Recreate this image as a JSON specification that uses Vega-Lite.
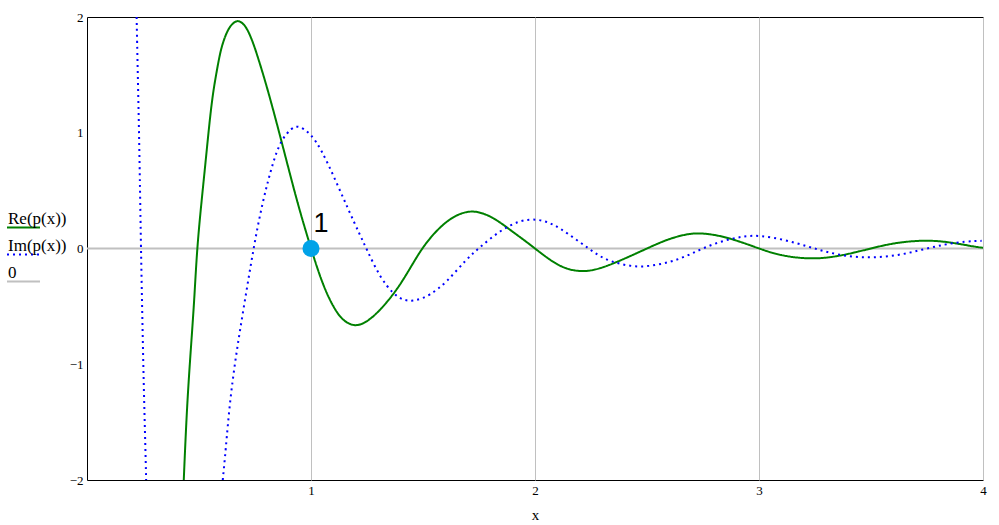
{
  "$schema": "https://vega.github.io/schema/vega-lite/v6.json",
  "width": 896,
  "height": 463,
  "autosize": {"type": "none"},
  "padding": {"left": 87, "top": 17, "right": 16, "bottom": 45},
  "background": "white",
  "config": {
    "view": {"stroke": "black", "strokeWidth": 1},
    "font": "Liberation Serif",
    "legend": {
      "orient": "none",
      "legendX": -81,
      "legendY": 193,
      "direction": "vertical",
      "title": null,
      "symbolType": "stroke",
      "symbolSize": 1089,
      "labelFont": "Liberation Serif",
      "labelFontSize": 17,
      "labelColor": "black",
      "labelBaseline": "bottom",
      "labelOffset": -33,
      "rowPadding": 4,
      "padding": 0
    }
  },
  "datasets": {
    "curves": [
      {"x": 0.432, "y": -2.0, "s": "Re(p(x))", "seg": "re"},
      {"x": 0.4375, "y": -1.745, "s": "Re(p(x))", "seg": "re"},
      {"x": 0.448, "y": -1.313, "s": "Re(p(x))", "seg": "re"},
      {"x": 0.463, "y": -0.881, "s": "Re(p(x))", "seg": "re"},
      {"x": 0.479, "y": -0.449, "s": "Re(p(x))", "seg": "re"},
      {"x": 0.491, "y": 0.0, "s": "Re(p(x))", "seg": "re"},
      {"x": 0.512, "y": 0.42, "s": "Re(p(x))", "seg": "re"},
      {"x": 0.527, "y": 0.702, "s": "Re(p(x))", "seg": "re"},
      {"x": 0.549, "y": 1.134, "s": "Re(p(x))", "seg": "re"},
      {"x": 0.564, "y": 1.365, "s": "Re(p(x))", "seg": "re"},
      {"x": 0.579, "y": 1.53, "s": "Re(p(x))", "seg": "re"},
      {"x": 0.594, "y": 1.69, "s": "Re(p(x))", "seg": "re"},
      {"x": 0.61, "y": 1.8, "s": "Re(p(x))", "seg": "re"},
      {"x": 0.631, "y": 1.9, "s": "Re(p(x))", "seg": "re"},
      {"x": 0.655, "y": 1.955, "s": "Re(p(x))", "seg": "re"},
      {"x": 0.676, "y": 1.972, "s": "Re(p(x))", "seg": "re"},
      {"x": 0.7, "y": 1.94, "s": "Re(p(x))", "seg": "re"},
      {"x": 0.72, "y": 1.88, "s": "Re(p(x))", "seg": "re"},
      {"x": 0.743, "y": 1.77, "s": "Re(p(x))", "seg": "re"},
      {"x": 0.765, "y": 1.64, "s": "Re(p(x))", "seg": "re"},
      {"x": 0.806, "y": 1.38, "s": "Re(p(x))", "seg": "re"},
      {"x": 0.862, "y": 0.975, "s": "Re(p(x))", "seg": "re"},
      {"x": 0.925, "y": 0.5, "s": "Re(p(x))", "seg": "re"},
      {"x": 0.962, "y": 0.245, "s": "Re(p(x))", "seg": "re"},
      {"x": 1.0, "y": 0.0, "s": "Re(p(x))", "seg": "re"},
      {"x": 1.055, "y": -0.334, "s": "Re(p(x))", "seg": "re"},
      {"x": 1.115, "y": -0.564, "s": "Re(p(x))", "seg": "re"},
      {"x": 1.16, "y": -0.648, "s": "Re(p(x))", "seg": "re"},
      {"x": 1.204, "y": -0.672, "s": "Re(p(x))", "seg": "re"},
      {"x": 1.25, "y": -0.635, "s": "Re(p(x))", "seg": "re"},
      {"x": 1.308, "y": -0.536, "s": "Re(p(x))", "seg": "re"},
      {"x": 1.382, "y": -0.363, "s": "Re(p(x))", "seg": "re"},
      {"x": 1.44, "y": -0.18, "s": "Re(p(x))", "seg": "re"},
      {"x": 1.494, "y": 0.0, "s": "Re(p(x))", "seg": "re"},
      {"x": 1.561, "y": 0.16, "s": "Re(p(x))", "seg": "re"},
      {"x": 1.635, "y": 0.282, "s": "Re(p(x))", "seg": "re"},
      {"x": 1.722, "y": 0.34, "s": "Re(p(x))", "seg": "re"},
      {"x": 1.814, "y": 0.272, "s": "Re(p(x))", "seg": "re"},
      {"x": 1.903, "y": 0.14, "s": "Re(p(x))", "seg": "re"},
      {"x": 1.95, "y": 0.075, "s": "Re(p(x))", "seg": "re"},
      {"x": 2.0, "y": 0.0, "s": "Re(p(x))", "seg": "re"},
      {"x": 2.05, "y": -0.075, "s": "Re(p(x))", "seg": "re"},
      {"x": 2.1, "y": -0.14, "s": "Re(p(x))", "seg": "re"},
      {"x": 2.15, "y": -0.183, "s": "Re(p(x))", "seg": "re"},
      {"x": 2.22, "y": -0.204, "s": "Re(p(x))", "seg": "re"},
      {"x": 2.3, "y": -0.17, "s": "Re(p(x))", "seg": "re"},
      {"x": 2.4, "y": -0.088, "s": "Re(p(x))", "seg": "re"},
      {"x": 2.5, "y": 0.0, "s": "Re(p(x))", "seg": "re"},
      {"x": 2.588, "y": 0.078, "s": "Re(p(x))", "seg": "re"},
      {"x": 2.677, "y": 0.126, "s": "Re(p(x))", "seg": "re"},
      {"x": 2.737, "y": 0.135, "s": "Re(p(x))", "seg": "re"},
      {"x": 2.826, "y": 0.112, "s": "Re(p(x))", "seg": "re"},
      {"x": 2.915, "y": 0.06, "s": "Re(p(x))", "seg": "re"},
      {"x": 3.0, "y": 0.0, "s": "Re(p(x))", "seg": "re"},
      {"x": 3.094, "y": -0.062, "s": "Re(p(x))", "seg": "re"},
      {"x": 3.228, "y": -0.094, "s": "Re(p(x))", "seg": "re"},
      {"x": 3.347, "y": -0.072, "s": "Re(p(x))", "seg": "re"},
      {"x": 3.481, "y": -0.009, "s": "Re(p(x))", "seg": "re"},
      {"x": 3.6, "y": 0.049, "s": "Re(p(x))", "seg": "re"},
      {"x": 3.734, "y": 0.073, "s": "Re(p(x))", "seg": "re"},
      {"x": 3.838, "y": 0.06, "s": "Re(p(x))", "seg": "re"},
      {"x": 3.957, "y": 0.017, "s": "Re(p(x))", "seg": "re"},
      {"x": 4.0, "y": 0.006, "s": "Re(p(x))", "seg": "re"},
      {"x": 0.2215, "y": 2.0, "s": "Im(p(x))", "seg": "im1"},
      {"x": 0.226, "y": 1.566, "s": "Im(p(x))", "seg": "im1"},
      {"x": 0.231, "y": 1.134, "s": "Im(p(x))", "seg": "im1"},
      {"x": 0.235, "y": 0.702, "s": "Im(p(x))", "seg": "im1"},
      {"x": 0.2375, "y": 0.415, "s": "Im(p(x))", "seg": "im1"},
      {"x": 0.241, "y": 0.0, "s": "Im(p(x))", "seg": "im1"},
      {"x": 0.2455, "y": -0.449, "s": "Im(p(x))", "seg": "im1"},
      {"x": 0.25, "y": -0.881, "s": "Im(p(x))", "seg": "im1"},
      {"x": 0.255, "y": -1.313, "s": "Im(p(x))", "seg": "im1"},
      {"x": 0.261, "y": -1.745, "s": "Im(p(x))", "seg": "im1"},
      {"x": 0.264, "y": -2.0, "s": "Im(p(x))", "seg": "im1"},
      {"x": 0.606, "y": -2.0, "s": "Im(p(x))", "seg": "im2"},
      {"x": 0.619, "y": -1.745, "s": "Im(p(x))", "seg": "im2"},
      {"x": 0.638, "y": -1.313, "s": "Im(p(x))", "seg": "im2"},
      {"x": 0.668, "y": -0.881, "s": "Im(p(x))", "seg": "im2"},
      {"x": 0.705, "y": -0.449, "s": "Im(p(x))", "seg": "im2"},
      {"x": 0.743, "y": 0.0, "s": "Im(p(x))", "seg": "im2"},
      {"x": 0.783, "y": 0.4, "s": "Im(p(x))", "seg": "im2"},
      {"x": 0.832, "y": 0.76, "s": "Im(p(x))", "seg": "im2"},
      {"x": 0.866, "y": 0.935, "s": "Im(p(x))", "seg": "im2"},
      {"x": 0.914, "y": 1.045, "s": "Im(p(x))", "seg": "im2"},
      {"x": 0.945, "y": 1.062, "s": "Im(p(x))", "seg": "im2"},
      {"x": 0.996, "y": 1.0, "s": "Im(p(x))", "seg": "im2"},
      {"x": 1.048, "y": 0.85, "s": "Im(p(x))", "seg": "im2"},
      {"x": 1.107, "y": 0.6, "s": "Im(p(x))", "seg": "im2"},
      {"x": 1.167, "y": 0.335, "s": "Im(p(x))", "seg": "im2"},
      {"x": 1.219, "y": 0.115, "s": "Im(p(x))", "seg": "im2"},
      {"x": 1.247, "y": 0.0, "s": "Im(p(x))", "seg": "im2"},
      {"x": 1.308, "y": -0.25, "s": "Im(p(x))", "seg": "im2"},
      {"x": 1.368, "y": -0.395, "s": "Im(p(x))", "seg": "im2"},
      {"x": 1.41, "y": -0.445, "s": "Im(p(x))", "seg": "im2"},
      {"x": 1.457, "y": -0.46, "s": "Im(p(x))", "seg": "im2"},
      {"x": 1.531, "y": -0.406, "s": "Im(p(x))", "seg": "im2"},
      {"x": 1.606, "y": -0.291, "s": "Im(p(x))", "seg": "im2"},
      {"x": 1.695, "y": -0.089, "s": "Im(p(x))", "seg": "im2"},
      {"x": 1.754, "y": 0.011, "s": "Im(p(x))", "seg": "im2"},
      {"x": 1.844, "y": 0.156, "s": "Im(p(x))", "seg": "im2"},
      {"x": 1.933, "y": 0.245, "s": "Im(p(x))", "seg": "im2"},
      {"x": 2.008, "y": 0.256, "s": "Im(p(x))", "seg": "im2"},
      {"x": 2.067, "y": 0.222, "s": "Im(p(x))", "seg": "im2"},
      {"x": 2.112, "y": 0.175, "s": "Im(p(x))", "seg": "im2"},
      {"x": 2.179, "y": 0.084, "s": "Im(p(x))", "seg": "im2"},
      {"x": 2.246, "y": -0.009, "s": "Im(p(x))", "seg": "im2"},
      {"x": 2.305, "y": -0.089, "s": "Im(p(x))", "seg": "im2"},
      {"x": 2.379, "y": -0.135, "s": "Im(p(x))", "seg": "im2"},
      {"x": 2.461, "y": -0.163, "s": "Im(p(x))", "seg": "im2"},
      {"x": 2.543, "y": -0.143, "s": "Im(p(x))", "seg": "im2"},
      {"x": 2.618, "y": -0.11, "s": "Im(p(x))", "seg": "im2"},
      {"x": 2.692, "y": -0.052, "s": "Im(p(x))", "seg": "im2"},
      {"x": 2.766, "y": 0.017, "s": "Im(p(x))", "seg": "im2"},
      {"x": 2.848, "y": 0.072, "s": "Im(p(x))", "seg": "im2"},
      {"x": 2.93, "y": 0.106, "s": "Im(p(x))", "seg": "im2"},
      {"x": 3.004, "y": 0.115, "s": "Im(p(x))", "seg": "im2"},
      {"x": 3.116, "y": 0.075, "s": "Im(p(x))", "seg": "im2"},
      {"x": 3.22, "y": 0.017, "s": "Im(p(x))", "seg": "im2"},
      {"x": 3.302, "y": -0.032, "s": "Im(p(x))", "seg": "im2"},
      {"x": 3.406, "y": -0.072, "s": "Im(p(x))", "seg": "im2"},
      {"x": 3.51, "y": -0.081, "s": "Im(p(x))", "seg": "im2"},
      {"x": 3.622, "y": -0.06, "s": "Im(p(x))", "seg": "im2"},
      {"x": 3.726, "y": -0.011, "s": "Im(p(x))", "seg": "im2"},
      {"x": 3.83, "y": 0.037, "s": "Im(p(x))", "seg": "im2"},
      {"x": 3.927, "y": 0.063, "s": "Im(p(x))", "seg": "im2"},
      {"x": 3.994, "y": 0.066, "s": "Im(p(x))", "seg": "im2"}
    ],
    "zero": [
      {"x": 0, "y": 0, "s": "0", "seg": "z"},
      {"x": 4, "y": 0, "s": "0", "seg": "z"}
    ],
    "pt": [{"x": 1, "y": 0, "label": "1"}]
  },
  "encoding": {
    "x": {
      "field": "x",
      "type": "quantitative",
      "title": "x",
      "scale": {"domain": [0, 4], "nice": false, "zero": false},
      "axis": {
        "values": [1, 2, 3, 4],
        "grid": true,
        "gridColor": "#c0c0c0",
        "gridWidth": 1,
        "domain": false,
        "ticks": false,
        "labelFlush": false,
        "labelFont": "Liberation Serif",
        "labelFontSize": 13,
        "labelColor": "black",
        "labelPadding": 4,
        "titleFont": "Liberation Serif",
        "titleFontSize": 15,
        "titleFontWeight": "normal",
        "titleColor": "black",
        "titlePadding": 10
      }
    },
    "y": {
      "field": "y",
      "type": "quantitative",
      "scale": {"domain": [-2, 2], "nice": false, "zero": false},
      "axis": {
        "values": [-2, -1, 0, 1, 2],
        "title": null,
        "grid": false,
        "domain": false,
        "ticks": false,
        "labelFont": "Liberation Serif",
        "labelFontSize": 13,
        "labelColor": "black",
        "labelPadding": 4,
        "labelBaseline": "middle"
      }
    }
  },
  "layer": [
    {
      "data": {"name": "zero"},
      "mark": {"type": "line", "clip": true},
      "encoding": {
        "detail": {"field": "seg"},
        "color": {"field": "s", "type": "nominal", "scale": {"domain": ["Re(p(x))", "Im(p(x))", "0"], "range": ["#008000", "#0000ff", "#c0c0c0"]}},
        "strokeDash": {"field": "s", "type": "nominal", "scale": {"domain": ["Re(p(x))", "Im(p(x))", "0"], "range": [[1, 0], [2, 4], [1, 0]]}},
        "strokeWidth": {"field": "s", "type": "nominal", "scale": {"domain": ["Re(p(x))", "Im(p(x))", "0"], "range": [2, 2, 1]}}
      }
    },
    {
      "data": {"name": "curves"},
      "mark": {"type": "line", "clip": true, "interpolate": "basis"},
      "encoding": {
        "detail": {"field": "seg"},
        "color": {"field": "s", "type": "nominal"},
        "strokeDash": {"field": "s", "type": "nominal"},
        "strokeWidth": {"field": "s", "type": "nominal"}
      }
    },
    {
      "data": {"name": "pt"},
      "mark": {"type": "point", "filled": true, "color": "#00a2e8", "opacity": 1, "size": 290}
    },
    {
      "data": {"name": "pt"},
      "mark": {"type": "text", "font": "Liberation Sans", "fontSize": 27, "color": "black", "align": "center", "baseline": "middle", "dx": 10, "dy": -25},
      "encoding": {"text": {"field": "label"}}
    }
  ]
}
